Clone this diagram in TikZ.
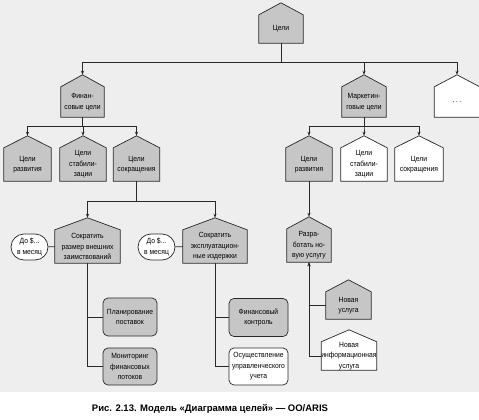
\documentclass[tikz,border=0pt]{standalone}
\usepackage{fontspec}
\setmainfont{Liberation Sans}[FakeStretch=0.9]
\newfontfamily\capfont{Liberation Sans}
\usetikzlibrary{arrows.meta, backgrounds}
\definecolor{goalgray}{RGB}{198,198,198}
\definecolor{paper}{RGB}{238,238,238}
\definecolor{edge}{RGB}{40,40,40}

\tikzset{
  txt/.style={inner sep=0pt, align=center, font=\fontsize{7.5}{10.5}\selectfont},
  goal/.style={txt, minimum width=46pt, minimum height=33pt},
  func/.style={txt, draw=edge, line width=0.7pt, rounded corners=5pt, fill=goalgray},
  limit/.style={txt, draw=edge, line width=0.7pt, rounded corners=13pt, fill=white, minimum width=37pt, minimum height=26pt},
  link/.style={draw=edge, line width=0.7pt},
  arrow/.style={link, -{Stealth[length=4pt, width=3pt]}},
}

\begin{document}
\begin{tikzpicture}[x=1pt, y=-1pt]
  \useasboundingbox (0,0) rectangle (479,420);

  % Goals, top levels
  \node[goal, minimum width=44pt, minimum height=28pt] (g0) at (281,29) {Цели};
  \node[goal, minimum width=43pt, minimum height=30pt] (fin) at (82.5,102) {Финан-\\совые цели};
  \node[goal, minimum width=44pt, minimum height=30pt] (mkt) at (364,102) {Маркетин-\\говые цели};
  \node[goal, minimum width=45pt, minimum height=30pt] (dots) at (457,102) {.\kern1.5pt.\kern1.5pt.};

  \node[goal, minimum width=47pt] (fdev) at (27.5,164.5) {Цели\\развития};
  \node[goal] (fstab) at (83,164.5) {Цели\\стабили-\\зации};
  \node[goal] (fcut) at (136.5,164.5) {Цели\\сокращения};
  \node[goal] (mdev) at (309,164.5) {Цели\\развития};
  \node[goal] (mstab) at (364,164.5) {Цели\\стабили-\\зации};
  \node[goal, minimum width=48pt] (mcut) at (419,164.5) {Цели\\сокращения};

  \node[goal, minimum width=65pt] (debt) at (87.5,246.5) {Сократить\\размер внешних\\заимствований};
  \node[goal, minimum width=64pt] (cost) at (215,246.5) {Сократить\\эксплуатацион-\\ные издержки};
  \node[goal, minimum width=44pt] (serv) at (309,245.5) {Разра-\\ботать но-\\вую услугу};

  \node[goal, minimum width=45pt, minimum height=27pt] (new1) at (348.5,305.5) {Новая\\услуга};
  \node[goal, minimum height=28pt] (new2) at (349,356) {Новая\\информационная\\услуга};

  % Limits
  \node[limit] (lim1) at (29.5,247) {До \$...\\в месяц};
  \node[limit] (lim2) at (156.5,247) {До \$...\\в месяц};

  % Functions
  \node[func, minimum width=54pt, minimum height=38pt] (plan) at (130,317) {Планирование\\поставок};
  \node[func, minimum width=54pt, minimum height=37pt] (mon) at (130,366.5) {Мониторинг\\финансовых\\потоков};
  \node[func, minimum width=59pt, minimum height=38pt] (ctrl) at (258.5,317.5) {Финансовый\\контроль};
  \node[func, fill=white, minimum width=59pt, minimum height=37pt] (acct) at (258.5,366.5) {Осуществление\\управленческого\\учета};

  % Houses behind the goal texts
  \begin{pgfonlayer}{background}
    \fill[paper] (0,0) rectangle (479,392);
    \foreach \n in {g0,fin,mkt,fdev,fstab,fcut,mdev,debt,cost,serv,new1} {
      \filldraw[link, fill=goalgray] (\n.south west) -- (\n.north west) -- ([yshift=12pt]\n.north)
        -- (\n.north east) -- (\n.south east) -- cycle;
      \coordinate (\n-top) at ([yshift=12pt]\n.north);
    }
    \foreach \n in {dots,mstab,mcut,new2} {
      \filldraw[link, fill=white] (\n.south west) -- (\n.north west) -- ([yshift=12pt]\n.north)
        -- (\n.north east) -- (\n.south east) -- cycle;
      \coordinate (\n-top) at ([yshift=12pt]\n.north);
    }
  \end{pgfonlayer}

  % Tree
  \foreach \n in {fin,mkt,dots}
    \draw[arrow] (g0.south) -- ++(0,19) -| (\n-top);
  \foreach \n in {fdev,fstab,fcut}
    \draw[arrow] (fin.south) -- ++(0,9) -| (\n-top);
  \foreach \n in {mdev,mstab,mcut}
    \draw[arrow] (mkt.south) -- ++(0,9) -| (\n-top);
  \foreach \n in {debt,cost}
    \draw[arrow] (fcut.south) -- ++(0,20) -| (\n-top);
  \draw[arrow] (mdev.south) -- (serv-top);

  \draw[link] (lim1) -- (debt);
  \draw[link] (lim2) -- (cost);

  \draw[link] (debt.south) |- (plan.west);
  \draw[link] (debt.south) |- (mon.west);
  \draw[link] (cost.south) |- (ctrl.west);
  \draw[link] (cost.south) |- (acct.west);
  \draw[arrow] (new1.west) -| (serv.south);
  \draw[arrow] (new2.west) -| (serv.south);

  % Caption
  \node[font=\capfont\fontsize{9.5}{11}\selectfont\bfseries] (cap) at (210,409) {Рис. 2.13. Модель «Диаграмма целей» — OO/ARIS};
\end{tikzpicture}
\end{document}
